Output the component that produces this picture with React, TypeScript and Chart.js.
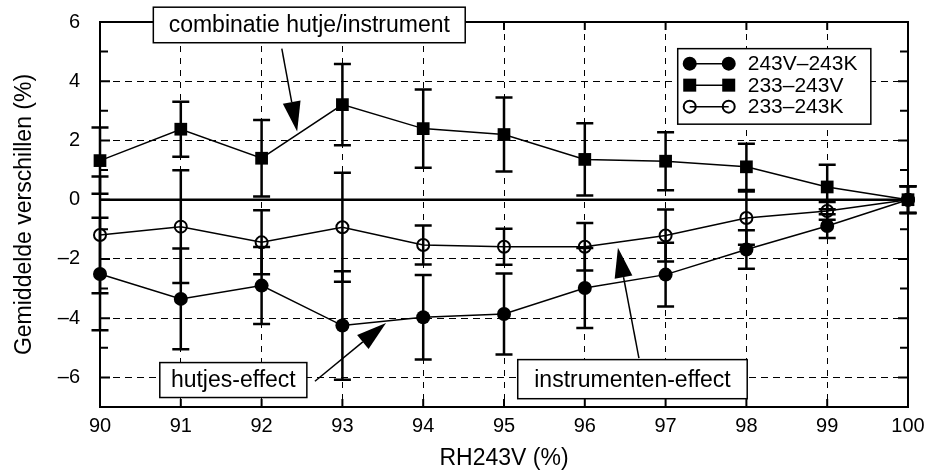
import React, { useEffect, useRef } from "react";
import { Chart, registerables } from "chart.js";

Chart.register(...registerables);

// ---------- data ----------
const rhValues = [90, 91, 92, 93, 94, 95, 96, 97, 98, 99, 100];
const diff243V243K = [-2.51, -3.35, -2.9, -4.25, -3.97, -3.86, -2.98, -2.53, -1.68, -0.89, 0];
const err243V243K = [1.9, 1.7, 1.3, 1.83, 1.43, 1.37, 1.35, 1.08, 0.65, 0.4, 0.45];
const diff233243V = [1.32, 2.38, 1.4, 3.21, 2.4, 2.2, 1.36, 1.3, 1.11, 0.43, 0];
const err233243V = [1.12, 0.93, 1.29, 1.37, 1.32, 1.25, 1.22, 0.98, 0.78, 0.75, 0.45];
const diff233243K = [-1.19, -0.91, -1.44, -0.93, -1.53, -1.59, -1.59, -1.21, -0.62, -0.38, 0];
const err233243K = [1.97, 1.9, 1.08, 1.84, 0.66, 0.61, 0.8, 0.88, 0.9, 0.3, 0.45];
const zeroLineX = [90, 100];
const zeroLineY = [0, 0];

const seriesLabels = ["243V\u2013243K", "233\u2013243V", "233\u2013243K"];
const yLabelValues = [-6, -4, -2, 0, 2, 4, 6];
const xTitle = "RH243V (%)";
const yTitle = "Gemiddelde verschillen (%)";

// annotations (data coordinates)
const annotations = [
  { text: "combinatie hutje/instrument", x1: 90.66, x2: 94.52, yTop: 6.5, yBot: 5.3, ax: 92.25, ay: 5.1, tx: 92.44, ty: 2.3 },
  { text: "hutjes-effect", x1: 90.74, x2: 92.56, yTop: -5.5, yBot: -6.68, ax: 92.66, ay: -6.13, tx: 93.54, ty: -4.16 },
  { text: "instrumenten-effect", x1: 95.17, x2: 98.01, yTop: -5.4, yBot: -6.72, ax: 96.67, ay: -5.35, tx: 96.41, ty: -1.62 },
];
const legendBox = { x1: 97.15, x2: 99.54, yTop: 5.1, yBot: 2.55 };

const FONT = "'Liberation Sans', Arial, Helvetica, sans-serif";

const toPts = (xs: number[], ys: number[]) => xs.map((x, i) => ({ x, y: ys[i] }));

function drawMarker(ctx: CanvasRenderingContext2D, kind: string, x: number, y: number) {
  ctx.save();
  ctx.fillStyle = "#000";
  ctx.strokeStyle = "#000";
  if (kind === "circle") {
    ctx.beginPath();
    ctx.arc(x, y, 7, 0, Math.PI * 2);
    ctx.fill();
  } else if (kind === "rect") {
    ctx.fillRect(x - 6.5, y - 6.5, 13, 13);
  } else {
    ctx.lineWidth = 2;
    ctx.beginPath();
    ctx.arc(x, y, 6, 0, Math.PI * 2);
    ctx.stroke();
  }
  ctx.restore();
}

const errorBarPlugin = {
  id: "errorBars",
  beforeDatasetsDraw(chart: any) {
    const ctx = chart.ctx;
    const ys = chart.scales.y;
    chart.data.datasets.forEach((ds: any, i: number) => {
      if (!ds.errors) return;
      const meta = chart.getDatasetMeta(i);
      ctx.save();
      ctx.strokeStyle = "#000";
      ctx.lineWidth = 2.5;
      meta.data.forEach((pt: any, j: number) => {
        const v = ds.data[j].y;
        const e = ds.errors[j];
        const yt = ys.getPixelForValue(v + e);
        const yb = ys.getPixelForValue(v - e);
        ctx.beginPath();
        ctx.moveTo(pt.x, yt);
        ctx.lineTo(pt.x, yb);
        ctx.moveTo(pt.x - 8.5, yt);
        ctx.lineTo(pt.x + 8.5, yt);
        ctx.moveTo(pt.x - 8.5, yb);
        ctx.lineTo(pt.x + 8.5, yb);
        ctx.stroke();
      });
      ctx.restore();
    });
  },
};

const decorPlugin = {
  id: "decor",
  beforeDatasetsDraw(chart: any) {
    const ctx = chart.ctx;
    const { left, right, top, bottom } = chart.chartArea;
    const xs = chart.scales.x;
    const ys = chart.scales.y;
    ctx.save();
    ctx.strokeStyle = "#000";
    ctx.lineWidth = 2;
    ctx.strokeRect(left, top, right - left, bottom - top);
    ctx.lineWidth = 2;
    for (let v = -6; v <= 5; v++) {
      const py = ys.getPixelForValue(v);
      const len = v % 2 === 0 ? 10 : 8;
      ctx.beginPath();
      ctx.moveTo(left, py);
      ctx.lineTo(left + len, py);
      ctx.moveTo(right, py);
      ctx.lineTo(right - len, py);
      ctx.stroke();
    }
    for (let x = 91; x <= 99; x++) {
      const px = xs.getPixelForValue(x);
      ctx.beginPath();
      ctx.moveTo(px, bottom);
      ctx.lineTo(px, bottom - 8);
      ctx.moveTo(px, top);
      ctx.lineTo(px, top + 8);
      ctx.stroke();
    }
    ctx.restore();
  },
  afterDraw(chart: any) {
    const ctx = chart.ctx;
    const { left, right, top, bottom } = chart.chartArea;
    const xs = chart.scales.x;
    const ys = chart.scales.y;
    ctx.save();
    ctx.fillStyle = "#000";
    ctx.font = `23px ${FONT}`;
    ctx.textAlign = "center";
    ctx.textBaseline = "middle";
    ctx.fillText(xTitle, (left + right) / 2, 459);
    ctx.save();
    ctx.translate(25, (top + bottom) / 2);
    ctx.rotate(-Math.PI / 2);
    ctx.fillText(yTitle, 0, 0);
    ctx.restore();

    // annotations
    annotations.forEach((a) => {
      const bx1 = xs.getPixelForValue(a.x1);
      const bx2 = xs.getPixelForValue(a.x2);
      const by1 = ys.getPixelForValue(a.yTop);
      const by2 = ys.getPixelForValue(a.yBot);
      ctx.fillStyle = "#fff";
      ctx.fillRect(bx1, by1, bx2 - bx1, by2 - by1);
      ctx.strokeStyle = "#000";
      ctx.lineWidth = 1.5;
      ctx.strokeRect(bx1, by1, bx2 - bx1, by2 - by1);
      ctx.fillStyle = "#000";
      ctx.font = `23px ${FONT}`;
      ctx.textAlign = "center";
      ctx.textBaseline = "middle";
      ctx.fillText(a.text, (bx1 + bx2) / 2, (by1 + by2) / 2 + 1);
      // arrow
      const sx = xs.getPixelForValue(a.ax);
      const sy = ys.getPixelForValue(a.ay);
      const tx = xs.getPixelForValue(a.tx);
      const ty = ys.getPixelForValue(a.ty);
      const ang = Math.atan2(ty - sy, tx - sx);
      const hl = 30;
      const hw = 9;
      const bxp = tx - hl * Math.cos(ang);
      const byp = ty - hl * Math.sin(ang);
      ctx.lineWidth = 1.5;
      ctx.beginPath();
      ctx.moveTo(sx, sy);
      ctx.lineTo(bxp, byp);
      ctx.stroke();
      ctx.beginPath();
      ctx.moveTo(tx, ty);
      ctx.lineTo(bxp + hw * Math.sin(ang), byp - hw * Math.cos(ang));
      ctx.lineTo(bxp - hw * Math.sin(ang), byp + hw * Math.cos(ang));
      ctx.closePath();
      ctx.fill();
    });

    // legend
    const lx1 = xs.getPixelForValue(legendBox.x1);
    const lx2 = xs.getPixelForValue(legendBox.x2);
    const ly1 = ys.getPixelForValue(legendBox.yTop);
    const ly2 = ys.getPixelForValue(legendBox.yBot);
    ctx.fillStyle = "#fff";
    ctx.fillRect(lx1, ly1, lx2 - lx1, ly2 - ly1);
    ctx.strokeStyle = "#000";
    ctx.lineWidth = 1.5;
    ctx.strokeRect(lx1, ly1, lx2 - lx1, ly2 - ly1);
    const kinds = ["circle", "rect", "open"];
    seriesLabels.forEach((lab, i) => {
      const ry = ly1 + 15 + i * 21.5;
      const m1 = lx1 + 12;
      const m2 = lx1 + 51;
      ctx.strokeStyle = "#000";
      ctx.lineWidth = 1.5;
      ctx.beginPath();
      ctx.moveTo(m1, ry);
      ctx.lineTo(m2, ry);
      ctx.stroke();
      drawMarker(ctx, kinds[i], m1, ry);
      drawMarker(ctx, kinds[i], m2, ry);
      ctx.fillStyle = "#000";
      ctx.font = `21px ${FONT}`;
      ctx.textAlign = "left";
      ctx.textBaseline = "middle";
      ctx.fillText(lab, lx1 + 70, ry + 1);
    });
    ctx.restore();
  },
};

export default function App() {
  const canvasRef = useRef<HTMLCanvasElement | null>(null);

  useEffect(() => {
    const canvas = canvasRef.current;
    if (!canvas) return;
    Chart.defaults.color = "#000";
    const chart = new Chart(canvas, {
      type: "line",
      data: {
        datasets: [
          {
            label: "zero",
            data: toPts(zeroLineX, zeroLineY),
            borderColor: "#000",
            borderWidth: 2.5,
            pointRadius: 0,
            clip: false,
          } as any,
          {
            label: seriesLabels[0],
            data: toPts(rhValues, diff243V243K),
            errors: err243V243K,
            borderColor: "#000",
            backgroundColor: "#000",
            borderWidth: 1.5,
            pointStyle: "circle",
            pointRadius: 7,
            pointBorderWidth: 0,
            pointBackgroundColor: "#000",
            clip: false,
          } as any,
          {
            label: seriesLabels[1],
            data: toPts(rhValues, diff233243V),
            errors: err233243V,
            borderColor: "#000",
            backgroundColor: "#000",
            borderWidth: 1.5,
            pointStyle: "rect",
            pointRadius: 9,
            pointBorderWidth: 0,
            pointBackgroundColor: "#000",
            clip: false,
          } as any,
          {
            label: seriesLabels[2],
            data: toPts(rhValues, diff233243K),
            errors: err233243K,
            borderColor: "#000",
            backgroundColor: "rgba(0,0,0,0)",
            borderWidth: 1.5,
            pointStyle: "circle",
            pointRadius: 6,
            pointBorderWidth: 2,
            pointBorderColor: "#000",
            pointBackgroundColor: "rgba(0,0,0,0)",
            clip: false,
          } as any,
        ],
      },
      options: {
        animation: false,
        responsive: true,
        maintainAspectRatio: false,
        layout: { padding: { left: 0, right: 20, top: 22, bottom: 0 } },
        plugins: {
          legend: { display: false },
          tooltip: { enabled: false },
        },
        scales: {
          x: {
            type: "linear",
            min: 90,
            max: 100,
            afterFit: (s: any) => {
              s.height = 68;
              s.paddingLeft = 0;
              s.paddingRight = 0;
            },
            ticks: {
              stepSize: 1,
              padding: 7,
              font: { size: 20, family: FONT },
              color: "#000",
              callback: (v: any) => String(v),
            },
            grid: {
              drawTicks: false,
              lineWidth: 1,
              color: (c: any) =>
                c.tick && c.tick.value > 90 && c.tick.value < 100 ? "#000" : "rgba(0,0,0,0)",
            },
            border: { display: true, color: "#000", width: 2, dash: [6, 6] },
          },
          y: {
            type: "linear",
            min: -7,
            max: 6,
            afterFit: (s: any) => {
              s.width = 100;
              s.paddingTop = 0;
              s.paddingBottom = 0;
            },
            ticks: {
              stepSize: 1,
              padding: 20,
              font: { size: 20, family: FONT },
              color: "#000",
              callback: (v: any) =>
                yLabelValues.includes(v) ? (v < 0 ? "\u2013" + Math.abs(v) : String(v)) : "",
            },
            grid: {
              drawTicks: false,
              lineWidth: 1,
              color: (c: any) => {
                const v = c.tick ? c.tick.value : NaN;
                return v % 2 === 0 && v !== 0 && v !== 6 ? "#000" : "rgba(0,0,0,0)";
              },
            },
            border: { display: true, color: "#000", width: 2, dash: [7, 5] },
          },
        },
      },
      plugins: [errorBarPlugin, decorPlugin],
    } as any);
    return () => chart.destroy();
  }, []);

  return (
    <div style={{ position: "fixed", left: 0, top: 0, width: 928, height: 475, background: "#fff" }}>
      <canvas ref={canvasRef} />
    </div>
  );
}
